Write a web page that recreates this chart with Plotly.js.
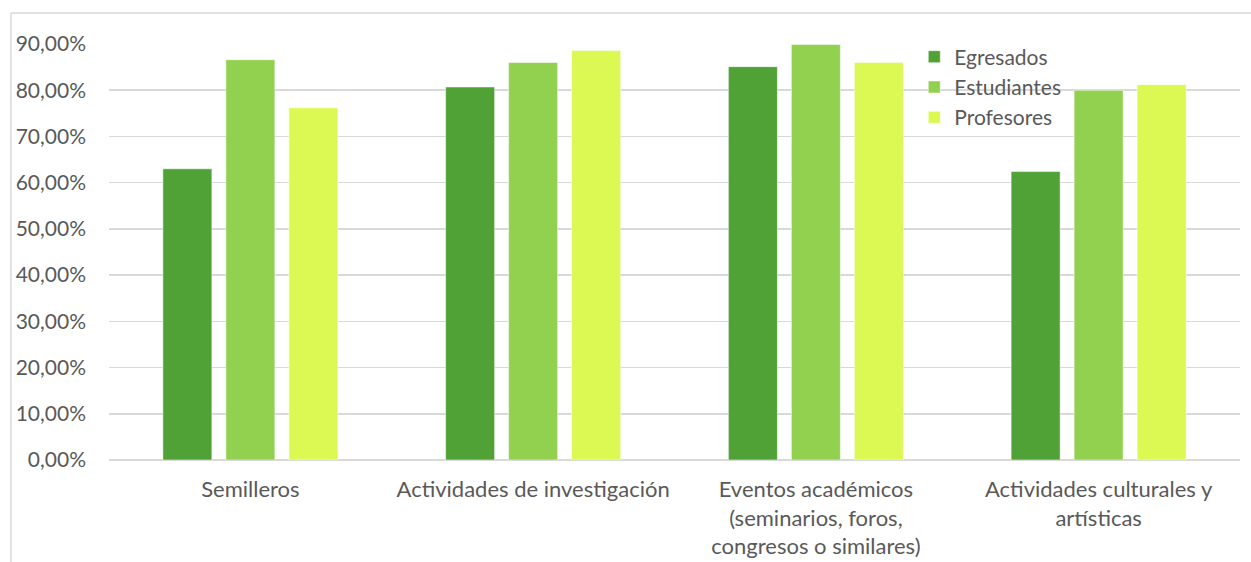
<!DOCTYPE html>
<html>
<head>
<meta charset="utf-8">
<script src="https://cdn.plot.ly/plotly-3.0.1.min.js"></script>
<style>html,body{margin:0;padding:0;background:#fff;}#chart{width:1251px;height:562px;}</style>
</head>
<body>
<div id="chart"></div>
<script>
var categories = ["Semilleros", "Actividades de investigación", "Eventos académicos<br>(seminarios, foros,<br>congresos o similares)", "Actividades culturales y<br>artísticas"];
var egresados = [0.630, 0.807, 0.851, 0.624];
var estudiantes = [0.866, 0.860, 0.899, 0.800];
var profesores = [0.762, 0.886, 0.860, 0.812];
var yTicks = [0, 0.1, 0.2, 0.3, 0.4, 0.5, 0.6, 0.7, 0.8, 0.9];
var yTickText = ["0,00%", "10,00%", "20,00%", "30,00%", "40,00%", "50,00%", "60,00%", "70,00%", "80,00%", "90,00%"];

var font = "Lato, Liberation Sans, Arial, sans-serif";
var txt = "#595959";
function tr(name, y, color) {
  return {type: "bar", name: name, x: categories, y: y,
    marker: {color: color, line: {color: "rgba(255,255,255,0.5)", width: 1}},
    hoverinfo: "y+name"};
}
var data = [
  tr("Egresados", egresados, "#50A236"),
  tr("Estudiantes", estudiantes, "#92D050"),
  tr("Profesores", profesores, "#DCF852")
];
var layout = {
  width: 1251, height: 562,
  margin: {l: 109, r: 11, t: 44, b: 102, pad: 0},
  paper_bgcolor: "#fff", plot_bgcolor: "#fff",
  font: {family: font, color: txt, size: 21},
  bargap: 0.3316, bargroupgap: 0.222, barmode: "group",
  xaxis: {type: "category", showgrid: false, showline: false, zeroline: false, ticks: "",
    ticklabelstandoff: 14,
    tickfont: {family: font, size: 22, color: txt}, automargin: false},
  yaxis: {range: [0, 0.9], tickvals: yTicks, ticktext: yTickText, showgrid: true,
    gridcolor: "#d9d9d9", gridwidth: 1.5, zeroline: true, zerolinecolor: "#d9d9d9", zerolinewidth: 1.5,
    showline: false, ticks: "", ticklabelstandoff: 22,
    tickfont: {family: font, size: 21, color: txt}, automargin: false},
  legend: {x: 0.712, xanchor: "left", y: 1.018, yanchor: "top", bgcolor: "rgba(0,0,0,0)",
    font: {family: font, size: 21, color: txt}, tracegroupgap: 0},
  showlegend: true,
  shapes: [
    {type: "line", xref: "paper", yref: "paper", x0: -0.0867, x1: -0.0867, y0: 1.0745, y1: -0.4, line: {color: "#d9d9d9", width: 1.5}},
    {type: "line", xref: "paper", yref: "paper", x0: -0.0867, x1: 1.02, y0: 1.0745, y1: 1.0745, line: {color: "#d9d9d9", width: 1.5}}
  ]
};
Plotly.newPlot("chart", data, layout, {displayModeBar: false, staticPlot: true});
</script>
</body>
</html>
